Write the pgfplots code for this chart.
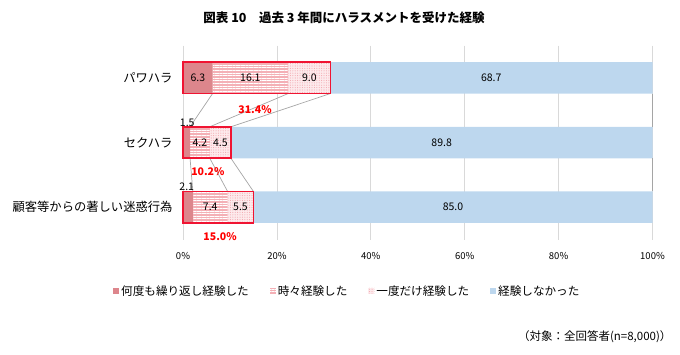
\documentclass[border=0pt]{standalone}
\usepackage{fontspec}
\setmainfont{Noto Sans CJK JP}
\usepackage{pgfplots}
\usepackage{pgfplotstable}
\pgfplotsset{compat=1.18}
\usetikzlibrary{patterns.meta}

\definecolor{segA}{RGB}{221,134,140}
\definecolor{segB}{RGB}{244,176,182}
\definecolor{segC}{RGB}{253,234,236}
\definecolor{segCdot}{RGB}{242,168,176}
\definecolor{segD}{RGB}{189,215,238}
\definecolor{frameRed}{RGB}{240,20,50}
\definecolor{gridc}{RGB}{217,217,217}
\definecolor{serline}{RGB}{165,165,165}

\pgfplotstableread{
y a b c d
0 6.3 16.1 9.0 68.7
1 1.5 4.2 4.5 89.8
2 2.1 7.4 5.5 85.0
}\datatable

\pgfplotstableread{
y tot lx ly lab
0 31.4 15.35 0.49 31.4
1 10.2 5.3 1.45 10.2
2 15.0 7.9 2.46 15.0
}\totals

\pgfplotstableread{
x y lab
3.15 0 6.3
14.35 0 16.1
26.9 0 9.0
65.65 0 68.7
3.6 1 4.2
7.95 1 4.5
55.1 1 89.8
5.8 2 7.4
12.25 2 5.5
57.5 2 85.0
}\inlabels

\pgfplotstableread{
x y lab
0.9 0.70 1.5
0.8 1.69 2.1
}\outlabels

\begin{document}
\begin{tikzpicture}
\useasboundingbox (0pt,0pt) rectangle (680pt,354pt);
\pgfplotsset{
  common/.style={
    at={(183pt,114.5pt)}, anchor=south west,
    scale only axis, width=469.5pt, height=194pt,
    xmin=0, xmax=100, ymin=-0.5, ymax=2.5, y dir=reverse,
  }
}
\begin{axis}[common,
  xbar stacked, bar width=31.5pt,
  axis line style={draw=none},
  major tick length=0pt,
  xmajorgrids, grid style={draw=gridc, line width=0.8pt},
  xtick={0,20,40,60,80,100},
  xticklabel={\pgfmathprintnumber{\tick}\%},
  /pgf/number format/assume math mode=true,
  xticklabel style={font=\fontsize{9.5}{11}\selectfont, yshift=-9pt},
  ytick={0,1,2},
  yticklabels={パワハラ,セクハラ,顧客等からの著しい迷惑行為},
  yticklabel style={font=\fontsize{12.3}{14}\selectfont, xshift=-7pt},
  legend columns=4,
  legend style={draw=none, fill=none, font=\fontsize{11.6}{13}\selectfont,
    at={(-0.149,-0.265)}, anchor=west,
    /tikz/every even column/.append style={column sep=19pt},
    inner sep=0pt},
  legend image code/.code={\draw[#1,draw=none] (0pt,-3pt) rectangle (6pt,3pt);},
]
\addplot[fill=segA, draw=none] table[x=a,y=y]{\datatable};
\addplot[fill=segB, draw=none, postaction={pattern color=white, pattern={Lines[angle=0,distance=2.6pt,line width=1pt]}}] table[x=b,y=y]{\datatable};
\addplot[fill=segC, draw=none, postaction={pattern color=segCdot, pattern={Dots[distance=2.4pt,radius=0.55pt]}}] table[x=c,y=y]{\datatable};
\addplot[fill=segD, draw=none] table[x=d,y=y]{\datatable};
\legend{何度も繰り返し経験した,時々経験した,一度だけ経験した,経験しなかった}
\end{axis}

\begin{axis}[common, hide axis, clip=false]
% series lines
\addplot[serline, line width=0.7pt] coordinates {(6.3,0.243) (1.5,0.757)};
\addplot[serline, line width=0.7pt] coordinates {(22.4,0.243) (5.7,0.757)};
\addplot[serline, line width=0.7pt] coordinates {(31.4,0.243) (10.2,0.757)};
\addplot[serline, line width=0.7pt] coordinates {(100,0.243) (100,0.757)};
\addplot[serline, line width=0.7pt] coordinates {(1.5,1.243) (2.1,1.757)};
\addplot[serline, line width=0.7pt] coordinates {(5.7,1.243) (9.5,1.757)};
\addplot[serline, line width=0.7pt] coordinates {(10.2,1.243) (15.0,1.757)};
\addplot[serline, line width=0.7pt] coordinates {(100,1.243) (100,1.757)};
% red frames
\addplot[xbar, bar width=31.5pt, bar shift=0pt, draw=frameRed, line width=1.6pt, fill=none] table[x=tot,y=y]{\totals};
% inner labels
\addplot[draw=none, mark=none, point meta=explicit symbolic,
  nodes near coords, every node near coord/.style={anchor=center, font=\fontsize{10.5}{12}\selectfont, text=black}]
  table[x=x,y=y,meta=lab]{\inlabels};
\addplot[draw=none, mark=none, point meta=explicit symbolic,
  nodes near coords, every node near coord/.style={anchor=center, font=\fontsize{10.5}{12}\selectfont, text=black}]
  table[x=x,y=y,meta=lab]{\outlabels};
% red totals
\addplot[draw=none, mark=none, point meta=explicit symbolic,
  nodes near coords={\pgfplotspointmeta\%},
  every node near coord/.style={anchor=center, font=\bfseries\fontsize{10.5}{12}\selectfont, text=red}]
  table[x=lx,y=ly,meta=lab]{\totals};
\end{axis}

\node[font=\bfseries\fontsize{12.5}{14}\selectfont] at (344pt,336pt) {図表 10　過去 3 年間にハラスメントを受けた経験};
\node[anchor=east, font=\fontsize{11.5}{13}\selectfont] at (675pt,17pt) {（対象：全回答者(n=8,000)）};
\end{tikzpicture}
\end{document}
